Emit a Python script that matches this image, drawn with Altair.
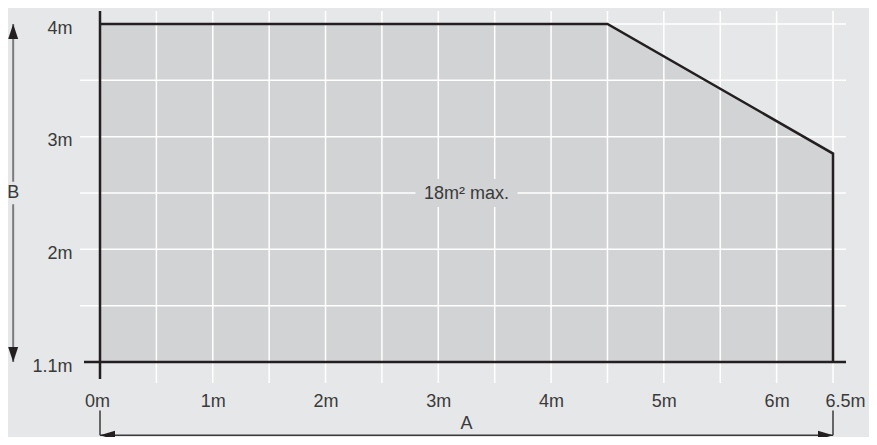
import altair as alt
import pandas as pd

# ---- data ----
x_tick_values = [0, 1, 2, 3, 4, 5, 6, 6.5]
x_tick_labels = ["0m", "1m", "2m", "3m", "4m", "5m", "6m", "6.5m"]
y_tick_values = [1, 2, 3, 4]
y_tick_labels = ["1.1m", "2m", "3m", "4m"]

# envelope of the operating area (A in m, B in m)
env_x = [0, 4.5, 6.5]
env_y = [4, 4, 2.85]
env_floor = 1
outline_x = [0, 4.5, 6.5, 6.5]
outline_y = [4, 4, 2.85, 1]

grid_x = [0.5, 1, 1.5, 2, 2.5, 3, 3.5, 4, 4.5, 5, 5.5, 6, 6.5]
grid_y = [1.5, 2, 2.5, 3, 3.5]

area_label = "18m² max."
area_label_x = 3.25
area_label_y = 2.5

# dimension annotations
b_x = -0.77
b_label_y = 2.5
a_y = 0.35
a_label_y = 0.45
a_tick_top = 0.57

BLACK = "#231f20"
FONT = "Liberation Sans"
BG = "#e6e7e8"
FILL = "#d2d3d5"
TXT = "#3a3a3a"
FS = 18

xs = alt.Scale(domain=[0, 6.5], nice=False, zero=False)
ys = alt.Scale(domain=[1, 4], nice=False, zero=False)

x_axis = alt.Axis(
    values=x_tick_values,
    labelExpr="[" + ",".join("'%s'" % s for s in x_tick_labels) + "][indexof(["
    + ",".join(str(v) for v in x_tick_values) + "], datum.value)]",
    labelAlign=alt.expr("datum.value == 6.5 ? 'left' : 'center'"),
    labelOffset=alt.expr("datum.value == 6.5 ? -8 : (datum.value == 0 ? -3 : 0)"),
    labelBaseline="top",
    labelPadding=30,
    title=None, grid=False, domain=False, ticks=False, tickSize=0,
    labelFont=FONT, labelFontSize=FS, labelColor=TXT,
)
y_axis = alt.Axis(
    values=y_tick_values,
    labelExpr="[" + ",".join("'%s'" % s for s in y_tick_labels) + "][indexof(["
    + ",".join(str(v) for v in y_tick_values) + "], datum.value)]",
    labelPadding=28, labelOffset=4,
    title=None, grid=False, domain=False, ticks=False, tickSize=0,
    labelFont=FONT, labelFontSize=FS, labelColor=TXT,
)

env_df = pd.DataFrame({"x": env_x, "y": env_y, "y0": [env_floor] * len(env_x)})
area = alt.Chart(env_df).mark_area(color=FILL, opacity=1).encode(
    x=alt.X("x:Q", scale=xs, axis=x_axis),
    y=alt.Y("y:Q", scale=ys, axis=y_axis),
    y2="y0:Q",
)

gv_df = pd.DataFrame({"x": grid_x, "y": [4] * len(grid_x), "y0": [1] * len(grid_x)})
grid_v = alt.Chart(gv_df).mark_rule(color="white", strokeWidth=1.5, yOffset=-13, y2Offset=21).encode(
    x=alt.X("x:Q", scale=xs), y=alt.Y("y:Q", scale=ys), y2="y0:Q"
)
gh_df = pd.DataFrame({"y": grid_y, "x": [0] * len(grid_y), "x1": [6.5] * len(grid_y)})
grid_h = alt.Chart(gh_df).mark_rule(color="white", strokeWidth=1.5, xOffset=-20, x2Offset=13).encode(
    y=alt.Y("y:Q", scale=ys), x=alt.X("x:Q", scale=xs), x2="x1:Q"
)
gtop_df = pd.DataFrame({"y": [4], "x": [0], "x1": [6.5]})
grid_top = alt.Chart(gtop_df).mark_rule(color="white", strokeWidth=1.5, x2Offset=13).encode(
    y=alt.Y("y:Q", scale=ys), x=alt.X("x:Q", scale=xs), x2="x1:Q"
)

# label backing box + label
lab_df = pd.DataFrame({"x": [area_label_x], "y": [area_label_y], "t": [area_label]})
lab_box = alt.Chart(lab_df).mark_point(
    shape="M-1,-0.275L1,-0.275L1,0.275L-1,0.275Z", size=102 * 102,
    filled=True, fill=FILL, opacity=1, strokeWidth=0,
).encode(x=alt.X("x:Q", scale=xs), y=alt.Y("y:Q", scale=ys))
lab_txt = alt.Chart(lab_df).mark_text(
    font=FONT, fontSize=FS, color=TXT, baseline="middle", align="center", dy=1
).encode(x=alt.X("x:Q", scale=xs), y=alt.Y("y:Q", scale=ys), text="t:N")

# outline of the envelope
ol_df = pd.DataFrame({"x": outline_x, "y": outline_y, "o": list(range(len(outline_x)))})
outline = alt.Chart(ol_df).mark_line(color=BLACK, strokeWidth=2.5, strokeJoin="miter").encode(
    x=alt.X("x:Q", scale=xs), y=alt.Y("y:Q", scale=ys), order="o:Q"
)

# axis lines
ax_left = alt.Chart(pd.DataFrame({"x": [0], "y": [4], "y0": [1]})).mark_rule(
    color=BLACK, strokeWidth=2.5, yOffset=-13, y2Offset=17
).encode(x=alt.X("x:Q", scale=xs), y=alt.Y("y:Q", scale=ys), y2="y0:Q")
ax_bot = alt.Chart(pd.DataFrame({"y": [1], "x": [0], "x1": [6.5]})).mark_rule(
    color=BLACK, strokeWidth=2.5, xOffset=-16, x2Offset=13
).encode(y=alt.Y("y:Q", scale=ys), x=alt.X("x:Q", scale=xs), x2="x1:Q")

# B dimension arrow (vertical, left)
b_seg_df = pd.DataFrame({"x": [b_x, b_x], "y": [4, 2.4], "y0": [2.6, 1]})
b_line = alt.Chart(b_seg_df).mark_rule(color="#7a7b7e", strokeWidth=2).encode(
    x=alt.X("x:Q", scale=xs), y=alt.Y("y:Q", scale=ys), y2="y0:Q"
)
b_txt = alt.Chart(pd.DataFrame({"x": [b_x], "y": [b_label_y], "t": ["B"]})).mark_text(
    font=FONT, fontSize=FS, color=TXT, baseline="middle", align="center"
).encode(x=alt.X("x:Q", scale=xs), y=alt.Y("y:Q", scale=ys), text="t:N")

# A dimension arrow (horizontal, bottom)
a_line = alt.Chart(pd.DataFrame({"y": [a_y], "x": [0], "x1": [6.5]})).mark_rule(
    color="#3a3a3a", strokeWidth=1.5
).encode(y=alt.Y("y:Q", scale=ys), x=alt.X("x:Q", scale=xs), x2="x1:Q")
a_ticks = alt.Chart(pd.DataFrame({"x": [0, 6.5], "y": [a_tick_top] * 2, "y0": [a_y] * 2})).mark_rule(
    color="#3a3a3a", strokeWidth=1.5
).encode(x=alt.X("x:Q", scale=xs), y=alt.Y("y:Q", scale=ys), y2="y0:Q")
a_txt = alt.Chart(pd.DataFrame({"x": [area_label_x], "y": [a_label_y], "t": ["A"]})).mark_text(
    font=FONT, fontSize=FS, color=TXT, baseline="middle", align="center"
).encode(x=alt.X("x:Q", scale=xs), y=alt.Y("y:Q", scale=ys), text="t:N")

# arrowheads (tip at the point)
UP = "M0,0L0.667,2L-0.667,2Z"
DOWN = "M0,0L0.667,-2L-0.667,-2Z"
LEFT = "M0,0L2,-0.6L2,0.6Z"
RIGHT = "M0,0L-2,-0.6L-2,0.6Z"
heads_df = pd.DataFrame({
    "x": [b_x, b_x, 0, 6.5],
    "y": [4, 1, a_y, a_y],
    "s": [UP, DOWN, LEFT, RIGHT],
})
heads = alt.Chart(heads_df).mark_point(filled=True, size=225, color=BLACK, opacity=1, strokeWidth=0).encode(
    x=alt.X("x:Q", scale=xs), y=alt.Y("y:Q", scale=ys), shape=alt.Shape("s:N", scale=None)
)

chart = alt.layer(
    area, grid_v, grid_h, grid_top, lab_box, lab_txt, outline, ax_left, ax_bot,
    b_line, b_txt, a_line, a_ticks, a_txt, heads,
).properties(
    width=733, height=338,
    padding={"left": 92, "top": 16, "right": 36, "bottom": 75},
    autosize=alt.AutoSizeParams(type="none"),
    background=BG,
).configure_view(stroke=None)

chart.save("out.html", embed_options={"renderer": "svg", "actions": False})
